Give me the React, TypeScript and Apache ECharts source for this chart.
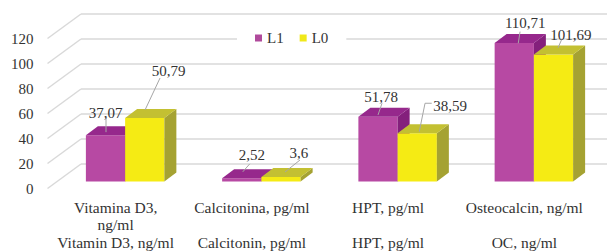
import React, { useEffect, useRef } from "react";
import * as echarts from "echarts";

const categoriesPt = ["Vitamina D3,\nng/ml", "Calcitonina, pg/ml", "HPT, pg/ml", "Osteocalcin, ng/ml"];
const categoriesEn = ["Vitamin D3, ng/ml", "Calcitonin, pg/ml", "HPT, pg/ml", "OC, ng/ml"];
const seriesNames = ["L1", "L0"];
const valuesL1 = [37.07, 2.52, 51.78, 110.71];
const valuesL0 = [50.79, 3.6, 38.59, 101.69];
const yTicks = [0, 20, 40, 60, 80, 100, 120];

const FONT = "Liberation Serif";
const TEXT = "#333333";
const GRID_COLOR = "#D9D9D9";
const DEPTH = { dx: 12, dy: -9 };
const WALL_BACK = { dx: 24, dy: -17.5 };
const WALL_FRONT = { dx: -9.5, dy: 7 };

const COLORS = [
  { legend: "#B04A9C", front: "#B749A3", top: "#96288C", side: "#84207C" },
  { legend: "#F0E81A", front: "#F5EB14", top: "#C3C032", side: "#A5A232" },
];

// label layout, relative to the centre of each bar's top face
const labelLayout = [
  {
    label: [[-6, -18], [4, -19], [-3, -15], [5, -15.6]],
    leader: [
      [[-5.5, -12.5], [-5.5, 1.5]],
      [[2, -10], [-5, -2]],
      [[-2, -9], [-6, 2.7]],
      [[-0.2, -7], [-2, 4.7]],
    ],
  },
  {
    label: [[18, -42.5], [12, -20], [27, -23], [11.5, -15]],
    leader: [
      [[9.3, -35.5], [-5.7, -3.5]],
      [[13, -12.5], [-2, -0.5]],
      [[8.5, -25.5], [1.8, -25.5], [-4, 3]],
      [[2, -10], [-1.5, -2]],
    ],
  },
];

function makeBarRenderer(side: number) {
  const c = COLORS[side];
  const lay = labelLayout[side];
  return (params: any, api: any) => {
    const ci = api.value(0);
    const v = api.value(1);
    const [cx, yt] = api.coord([ci, v]);
    const [, yb] = api.coord([ci, 0]);
    const band = api.size([1, 0])[0];
    const w = band * 0.288;
    const xl = side === 0 ? cx - w : cx;
    const xr = xl + w;
    const { dx, dy } = DEPTH;
    const ax = xl + w / 2 + dx / 2;
    const ay = yt + dy / 2;
    const lo = lay.label[ci];
    const ld = lay.leader[ci];
    const txt = String(v).replace(".", ",");
    return {
      type: "group",
      children: [
        {
          type: "rect",
          shape: { x: xl, y: yt, width: w, height: yb - yt },
          style: { fill: c.front },
        },
        {
          type: "polygon",
          shape: { points: [[xr, yb], [xr, yt], [xr + dx, yt + dy], [xr + dx, yb + dy]] },
          style: { fill: c.side },
        },
        {
          type: "polygon",
          shape: { points: [[xl, yt], [xr, yt], [xr + dx, yt + dy], [xl + dx, yt + dy]] },
          style: { fill: c.top },
        },
        {
          type: "polyline",
          shape: { points: ld.map((p: number[]) => [ax + p[0], ay + p[1]]) },
          style: { stroke: "#A6A6A6", lineWidth: 1, fill: null },
          z2: 10,
        },
        {
          type: "text",
          style: {
            text: txt,
            x: ax + lo[0],
            y: ay + lo[1],
            align: "center",
            verticalAlign: "middle",
            fontSize: 15,
            fontFamily: FONT,
            fill: TEXT,
          },
          z2: 10,
        },
      ],
    };
  };
}

function renderWallDiagonal(params: any, api: any) {
  const v = api.value(1);
  const [, y] = api.coord([0, v]);
  const x0 = params.coordSys.x;
  return {
    type: "line",
    shape: {
      x1: x0 + WALL_FRONT.dx,
      y1: y + WALL_FRONT.dy,
      x2: x0 + WALL_BACK.dx,
      y2: y + WALL_BACK.dy,
    },
    style: { stroke: GRID_COLOR, lineWidth: 1.5 },
  };
}

export default function App() {
  const ref = useRef<HTMLDivElement>(null);
  useEffect(() => {
    if (!ref.current) return;
    const chart = echarts.init(ref.current, undefined, { renderer: "svg" });
    const yBase = { type: "value", min: 0, max: 120, interval: 20 };
    const option: any = {
      animation: false,
      backgroundColor: "#ffffff",
      textStyle: { fontFamily: FONT },
      legend: {
        data: seriesNames,
        left: 237,
        top: 27,
        icon: "rect",
        itemWidth: 7,
        itemHeight: 7,
        itemGap: 16,
        padding: [3, 18, 3, 18],
        backgroundColor: "#ffffff",
        selectedMode: false,
        textStyle: { fontSize: 15, fontFamily: FONT, color: TEXT, lineHeight: 16 },
      },
      grid: [
        { left: 57, top: 31.5, width: 545, height: 150 },
        { left: 81, top: 14, width: 600, height: 150 },
        { left: 47.5, top: 38.5, width: 545, height: 150 },
      ],
      xAxis: [
        { type: "category", gridIndex: 0, data: categoriesPt, show: false },
        { type: "category", gridIndex: 1, data: categoriesPt, show: false },
        {
          type: "category",
          gridIndex: 2,
          data: categoriesPt,
          position: "bottom",
          axisLine: { show: false },
          axisTick: { show: false },
          axisLabel: {
            margin: 10.5,
            fontSize: 15.5,
            lineHeight: 17,
            fontFamily: FONT,
            color: TEXT,
            interval: 0,
          },
        },
        {
          type: "category",
          gridIndex: 2,
          data: categoriesEn,
          position: "bottom",
          offset: 0,
          axisLine: { show: false },
          axisTick: { show: false },
          axisLabel: {
            margin: 45.5,
            fontSize: 15.5,
            lineHeight: 17,
            fontFamily: FONT,
            color: TEXT,
            interval: 0,
          },
        },
      ],
      yAxis: [
        { ...yBase, gridIndex: 0, show: false },
        {
          ...yBase,
          gridIndex: 1,
          axisLine: { show: false },
          axisTick: { show: false },
          axisLabel: { show: false },
          splitLine: { show: true, lineStyle: { color: GRID_COLOR, width: 1.5 } },
        },
        {
          ...yBase,
          gridIndex: 2,
          axisLine: { show: false },
          axisTick: { show: false },
          splitLine: { show: false },
          axisLabel: { margin: 14, fontSize: 15, fontFamily: FONT, color: TEXT },
        },
      ],
      series: [
        {
          type: "custom",
          name: "wall",
          xAxisIndex: 0,
          yAxisIndex: 0,
          silent: true,
          z: 1,
          renderItem: renderWallDiagonal,
          data: yTicks.map((t) => [0, t]),
        },
        {
          type: "custom",
          name: seriesNames[0],
          xAxisIndex: 0,
          yAxisIndex: 0,
          silent: true,
          itemStyle: { color: COLORS[0].legend },
          renderItem: makeBarRenderer(0),
          data: valuesL1.map((v, i) => [i, v]),
        },
        {
          type: "custom",
          name: seriesNames[1],
          xAxisIndex: 0,
          yAxisIndex: 0,
          silent: true,
          itemStyle: { color: COLORS[1].legend },
          renderItem: makeBarRenderer(1),
          data: valuesL0.map((v, i) => [i, v]),
        },
      ],
    };
    chart.setOption(option);
    return () => chart.dispose();
  }, []);
  return (
    <div
      ref={ref}
      style={{ position: "absolute", left: 0, top: 0, width: 607, height: 251 }}
    />
  );
}
